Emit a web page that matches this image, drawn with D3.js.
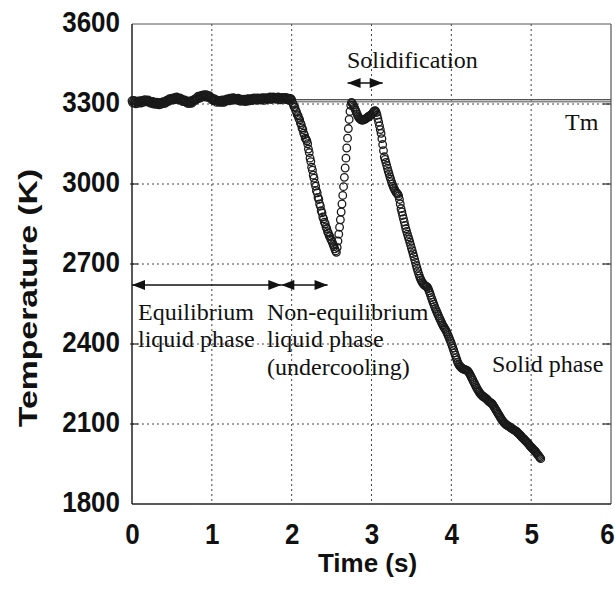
<!DOCTYPE html>
<html><head><meta charset="utf-8">
<script src="https://cdn.jsdelivr.net/npm/d3@7"></script>
<style>body{margin:0;background:#fff}svg{display:block}</style>
</head><body>
<svg id="chart" width="615" height="590"></svg>
<script>
// ---- data ----
const sampleStepS = 0.01;          // one reading every 10 ms, starting at t = 0 s
const tempK = [
 3312,3304,3313,3305,3311,3301,3308,3303,3311,3306, // 0.0
 3304,3312,3304,3312,3313,3307,3316,3310,3313,3308, // 0.1
 3315,3307,3311,3303,3310,3304,3310,3300,3305,3306, // 0.2
 3299,3307,3300,3305,3297,3304,3299,3306,3302,3309, // 0.3
 3302,3308,3303,3313,3310,3315,3310,3320,3315,3319, // 0.4
 3322,3316,3322,3316,3325,3319,3326,3318,3322,3316, // 0.5
 3323,3316,3319,3310,3315,3309,3315,3308,3311,3303, // 0.6
 3309,3302,3311,3303,3308,3303,3314,3310,3317,3315, // 0.7
 3315,3324,3320,3329,3321,3329,3323,3332,3329,3334, // 0.8
 3329,3334,3326,3335,3327,3331,3324,3331,3323,3325, // 0.9
 3316,3320,3313,3320,3312,3316,3306,3313,3309,3311, // 1.0
 3306,3313,3307,3315,3306,3312,3307,3316,3312,3319, // 1.1
 3313,3319,3312,3322,3317,3322,3315,3324,3317,3321, // 1.2
 3315,3321,3316,3322,3313,3317,3310,3318,3313,3317, // 1.3
 3311,3318,3309,3316,3312,3320,3311,3319,3315,3319, // 1.4
 3313,3321,3316,3323,3316,3320,3314,3323,3317,3322, // 1.5
 3316,3321,3315,3324,3317,3322,3314,3324,3319,3322, // 1.6
 3317,3324,3320,3326,3317,3324,3319,3326,3320,3324, // 1.7
 3318,3325,3319,3326,3317,3323,3316,3324,3320,3325, // 1.8
 3319,3324,3317,3325,3317,3321,3315,3322,3316,3320, // 1.9
 3316,3305,3299,3290,3287,3276,3271,3260,3256,3246, // 2.0
 3241,3229,3223,3210,3204,3191,3184,3172,3168,3162, // 2.1
 3151,3131,3118,3097,3084,3063,3052,3033,3022,3003, // 2.2
 2992,2975,2967,2950,2942,2925,2917,2900,2892,2876, // 2.3
 2869,2857,2851,2839,2833,2821,2816,2806,2803,2793, // 2.4
 2788,2781,2773,2765,2757,2749,2744,2762,2786,2812, // 2.5
 2838,2866,2895,2925,2957,2990,3025,3060,3097,3135, // 2.6
 3172,3208,3242,3272,3295,3306,3302,3296,3290,3284, // 2.7
 3277,3270,3262,3255,3250,3246,3243,3241,3240,3240, // 2.8
 3241,3242,3243,3245,3248,3250,3252,3254,3256,3258, // 2.9
 3260,3264,3268,3272,3275,3274,3268,3258,3245,3232, // 3.0
 3218,3204,3190,3170,3148,3125,3102,3092,3081,3070, // 3.1
 3059,3048,3038,3027,3018,3009,3000,2992,2985,2979, // 3.2
 2973,2968,2965,2962,2955,2942,2925,2908,2895,2882, // 3.3
 2870,2858,2845,2832,2822,2812,2802,2792,2782,2771, // 3.4
 2760,2750,2739,2728,2717,2706,2695,2684,2674,2664, // 3.5
 2655,2647,2640,2634,2629,2625,2622,2619,2617,2615, // 3.6
 2613,2608,2600,2592,2583,2574,2566,2557,2549,2541, // 3.7
 2533,2526,2519,2512,2505,2498,2492,2485,2479,2472, // 3.8
 2467,2462,2457,2452,2446,2439,2432,2425,2417,2410, // 3.9
 2402,2394,2385,2376,2367,2358,2349,2340,2331,2325, // 4.0
 2320,2316,2313,2310,2308,2306,2305,2304,2303,2302, // 4.1
 2300,2297,2293,2288,2282,2276,2270,2264,2258,2252, // 4.2
 2246,2240,2234,2229,2224,2219,2215,2211,2208,2205, // 4.3
 2203,2201,2199,2197,2194,2191,2188,2185,2182,2180, // 4.4
 2178,2176,2172,2167,2162,2157,2152,2147,2142,2137, // 4.5
 2132,2127,2122,2117,2113,2109,2105,2102,2099,2097, // 4.6
 2095,2093,2091,2089,2087,2085,2083,2081,2079,2077, // 4.7
 2075,2073,2071,2068,2065,2062,2059,2056,2052,2049, // 4.8
 2046,2043,2040,2037,2034,2031,2027,2024,2020,2016, // 4.9
 2013,2010,2007,2004,2001,1998,1994,1990,1986,1982, // 5.0
 1978,1974,1970                                     // 5.1
];
const xTicks = [0, 1, 2, 3, 4, 5, 6];
const yTicks = [1800, 2100, 2400, 2700, 3000, 3300, 3600];
const meltingPointK = 3312;
const xTitle = "Time (s)";
const yTitle = "Temperature (K)";

// ---- drawing ----
const svg = d3.select("#chart");
svg.append("rect").attr("width", 615).attr("height", 590).attr("fill", "#fff");

const x = d3.scaleLinear().domain([0, 6]).range([132, 611]);
const y = d3.scaleLinear().domain([1800, 3600]).range([504, 24]);
const [x0, x1] = x.range();
const [y0, y1] = y.range();

const sans = "'Liberation Sans', Arial, Helvetica, sans-serif";
const serif = "'Liberation Serif', 'Times New Roman', Times, serif";

// grid (dotted)
const grid = svg.append("g").attr("stroke", "#444").attr("stroke-width", 1).attr("stroke-dasharray", "2,3");
grid.selectAll("line.v").data(xTicks.slice(1, -1)).join("line")
  .attr("x1", d => x(d)).attr("x2", d => x(d)).attr("y1", y1).attr("y2", y0);
grid.selectAll("line.h").data(yTicks.slice(1, -1)).join("line")
  .attr("y1", d => y(d)).attr("y2", d => y(d)).attr("x1", x0).attr("x2", x1);

// inner ticks on left and right edges
const ticks = svg.append("g").attr("stroke", "#222").attr("stroke-width", 1.2);
ticks.selectAll("line.l").data(yTicks.slice(1, -1)).join("line")
  .attr("x1", x0 - 2).attr("x2", x0 + 6).attr("y1", d => y(d)).attr("y2", d => y(d));
ticks.selectAll("line.r").data(yTicks.slice(1, -1)).join("line")
  .attr("x1", x1 - 8).attr("x2", x1).attr("y1", d => y(d)).attr("y2", d => y(d));

// melting point line (double grey rule)
svg.append("line").attr("x1", x(1.95)).attr("x2", x1).attr("y1", y(meltingPointK) - 1.2).attr("y2", y(meltingPointK) - 1.2)
  .attr("stroke", "#555").attr("stroke-width", 1.1);
svg.append("line").attr("x1", x(1.95)).attr("x2", x1).attr("y1", y(meltingPointK) + 0.8).attr("y2", y(meltingPointK) + 0.8)
  .attr("stroke", "#888").attr("stroke-width", 1.8);

// frame
svg.append("line").attr("x1", x0).attr("x2", x1).attr("y1", y1).attr("y2", y1).attr("stroke", "#555").attr("stroke-width", 1);
svg.append("line").attr("x1", x1).attr("x2", x1).attr("y1", y1).attr("y2", y0).attr("stroke", "#555").attr("stroke-width", 1.2);
svg.append("line").attr("x1", x0).attr("x2", x0).attr("y1", y1).attr("y2", y0).attr("stroke", "#222").attr("stroke-width", 1.5);
svg.append("line").attr("x1", x0).attr("x2", x1).attr("y1", y0).attr("y2", y0).attr("stroke", "#222").attr("stroke-width", 1.5);

// axes (labels only)
const gx = svg.append("g").attr("transform", `translate(0,${y0})`)
  .call(d3.axisBottom(x).tickValues(xTicks).tickFormat(d3.format("d")).tickSize(0).tickPadding(16));
const gy = svg.append("g").attr("transform", `translate(${x0},0)`)
  .call(d3.axisLeft(y).tickValues(yTicks).tickFormat(d3.format("d")).tickSize(0).tickPadding(12));
[gx, gy].forEach(g => {
  g.select(".domain").remove();
  g.selectAll("text").attr("font-family", sans).attr("font-weight", "bold").attr("font-size", 26).attr("fill", "#111")
    .attr("transform", "scale(1,1.15)");
});
gy.selectAll("text").attr("dy", "0.26em");
gx.selectAll(".tick").filter(d => d === 6).select("text").attr("x", -4);

// axis titles
svg.append("text").attr("x", (x0 + x1) / 2 - 4).attr("y", 572).attr("text-anchor", "middle")
  .attr("font-family", sans).attr("font-weight", "bold").attr("font-size", 26).attr("fill", "#111").text(xTitle);
svg.append("text").attr("transform", `translate(37,${(y0 + y1) / 2 + 34}) rotate(-90) scale(1.3,1)`).attr("text-anchor", "middle")
  .attr("font-family", sans).attr("font-weight", "bold").attr("font-size", 26).attr("fill", "#111").text(yTitle);

// data points: open circles
svg.append("g").selectAll("circle").data(tempK).join("circle")
  .attr("cx", (d, i) => x(i * sampleStepS))
  .attr("cy", d => y(d))
  .attr("r", 3.8)
  .attr("fill", "none")
  .attr("stroke", "#1a1a1a")
  .attr("stroke-width", 1.3);

// annotation arrows
function head(tipX, yy, dir) {
  const L = 13, H = 5;
  return `M${tipX},${yy}L${tipX - dir * L},${yy - H}L${tipX - dir * L},${yy + H}Z`;
}
function doubleArrow(xa, xb, yy) {
  const g = svg.append("g");
  g.append("line").attr("x1", xa).attr("x2", xb).attr("y1", yy).attr("y2", yy).attr("stroke", "#111").attr("stroke-width", 1.3);
  g.append("path").attr("d", head(xa, yy, -1)).attr("fill", "#111");
  g.append("path").attr("d", head(xb, yy, 1)).attr("fill", "#111");
}
doubleArrow(x(2.70), x(3.14), 83);
doubleArrow(x0, x(1.87), 285);
doubleArrow(x(1.87), x(2.45), 285);

// annotation texts
function label(txt, xx, yy) {
  svg.append("text").attr("x", xx).attr("y", yy).attr("font-family", serif).attr("font-size", 24).attr("fill", "#111").text(txt);
}
label("Solidification", 347, 68);
label("Tm", 565, 130);
label("Equilibrium", 138, 320);
label("liquid phase", 138, 347);
label("Non-equilibrium", 267, 320);
label("liquid phase", 267, 347);
label("(undercooling)", 267, 375);
label("Solid phase", 492, 372);
</script>
</body></html>
